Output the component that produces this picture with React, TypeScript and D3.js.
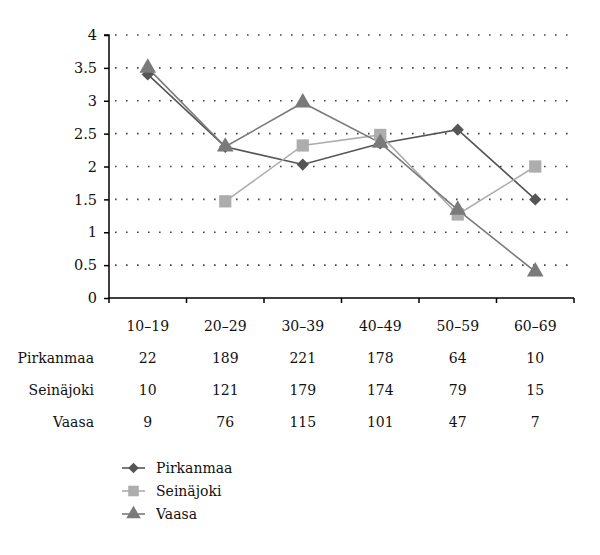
import * as d3 from "d3";
import { useEffect, useRef } from "react";

const ageGroups = ["10–19", "20–29", "30–39", "40–49", "50–59", "60–69"];
const pirkanmaa = [3.4, 2.3, 2.03, 2.35, 2.56, 1.5];
const seinajoki = [null, 1.47, 2.32, 2.48, 1.27, 2.0];
const vaasa = [3.5, 2.3, 2.97, 2.36, 1.34, 0.4];
const yTicks = [0, 0.5, 1, 1.5, 2, 2.5, 3, 3.5, 4];

const countRows = ["Pirkanmaa", "Seinäjoki", "Vaasa"];
const pirkanmaaCounts = [22, 189, 221, 178, 64, 10];
const seinajokiCounts = [10, 121, 179, 174, 79, 15];
const vaasaCounts = [9, 76, 115, 101, 47, 7];

const App = () => {
  const ref = useRef<SVGSVGElement>(null);

  useEffect(() => {
    const svg = d3.select(ref.current);
    svg.selectAll("*").remove();

    const family = "DejaVu Serif";
    const fs = 14;
    const left = 109, right = 574, top = 35, bottom = 298;

    const x = d3.scaleBand().domain(ageGroups).range([left, right]);
    const y = d3.scaleLinear().domain([0, 4]).range([bottom, top]);

    // dotted grid
    svg.append("g")
      .selectAll("line")
      .data(yTicks.filter((t) => t > 0))
      .join("line")
      .attr("x1", left + 6).attr("x2", right)
      .attr("y1", (d) => y(d)).attr("y2", (d) => y(d))
      .attr("stroke", "#444")
      .attr("stroke-width", 1.6)
      .attr("stroke-dasharray", "1.6,9.4");

    // y axis
    const yAxis = svg.append("g")
      .attr("transform", `translate(${left},0)`)
      .call(d3.axisLeft(y).tickValues(yTicks).tickSize(5).tickPadding(7).tickFormat((d) => String(d)));
    yAxis.attr("font-family", family).attr("font-size", fs + 0.5);
    yAxis.select(".domain").attr("stroke", "#000").attr("stroke-width", 1.5).attr("d", `M-5,${top}H0V${bottom}`);
    yAxis.selectAll(".tick line").attr("stroke", "#000").attr("stroke-width", 1.5);
    yAxis.selectAll("text").attr("fill", "#111");

    // x axis
    const boundaries = ageGroups.map((g) => x(g)!).concat([right]);
    svg.append("line")
      .attr("x1", left).attr("x2", right).attr("y1", bottom).attr("y2", bottom)
      .attr("stroke", "#000").attr("stroke-width", 1.5);
    svg.append("g")
      .selectAll("line")
      .data(boundaries)
      .join("line")
      .attr("x1", (d) => d).attr("x2", (d) => d)
      .attr("y1", bottom).attr("y2", bottom + 5)
      .attr("stroke", "#000").attr("stroke-width", 1.5);

    svg.append("g")
      .attr("font-family", family).attr("font-size", fs)
      .selectAll("text")
      .data(ageGroups)
      .join("text")
      .attr("x", (d) => x(d)! + x.bandwidth() / 2)
      .attr("y", 331)
      .attr("text-anchor", "middle")
      .attr("fill", "#111")
      .text((d) => d);

    // data table
    const tableData = [pirkanmaaCounts, seinajokiCounts, vaasaCounts];
    const table = svg.append("g").attr("font-family", family).attr("font-size", fs).attr("fill", "#111");
    tableData.forEach((row, i) => {
      const ty = 363 + i * 32;
      table.append("text")
        .attr("x", 94).attr("y", ty)
        .attr("text-anchor", "end")
        .text(countRows[i]);
      table.append("g")
        .selectAll("text")
        .data(row)
        .join("text")
        .attr("x", (d, j) => x(ageGroups[j])! + x.bandwidth() / 2)
        .attr("y", ty)
        .attr("text-anchor", "middle")
        .text((d) => d);
    });

    const series = [
      { name: "Pirkanmaa", values: pirkanmaa, color: "#555555", symbol: d3.symbolDiamond, size: 75 },
      { name: "Seinäjoki", values: seinajoki, color: "#adadad", symbol: d3.symbolSquare, size: 150 },
      { name: "Vaasa", values: vaasa, color: "#7a7a7a", symbol: d3.symbolTriangle, size: 120 },
    ];

    const line = d3.line<number | null>()
      .defined((d) => d !== null)
      .x((d, i) => x(ageGroups[i])! + x.bandwidth() / 2)
      .y((d) => y(d as number));

    series.forEach((s) => {
      svg.append("path")
        .datum(s.values)
        .attr("fill", "none")
        .attr("stroke", s.color)
        .attr("stroke-width", 1.6)
        .attr("d", line);
    });

    series.forEach((s) => {
      const isDiamond = s.symbol === d3.symbolDiamond;
      const sym = d3.symbol().type(isDiamond ? d3.symbolSquare : s.symbol).size(s.size);
      svg.append("g")
        .selectAll("path")
        .data(s.values.map((v, i) => ({ v, i })).filter((d) => d.v !== null))
        .join("path")
        .attr("transform", (d) => `translate(${x(ageGroups[d.i])! + x.bandwidth() / 2},${y(d.v as number)})` + (isDiamond ? " rotate(45)" : ""))
        .attr("d", sym())
        .attr("fill", s.color);
    });

    // legend
    const legend = svg.append("g").attr("font-family", family).attr("font-size", fs).attr("fill", "#111");
    series.forEach((s, i) => {
      const ly = 468 + i * 23;
      const isDiamond = s.symbol === d3.symbolDiamond;
      legend.append("line")
        .attr("x1", 122).attr("x2", 145).attr("y1", ly).attr("y2", ly)
        .attr("stroke", s.color).attr("stroke-width", 1.6);
      const sym = d3.symbol().type(isDiamond ? d3.symbolSquare : s.symbol).size(s.size * 0.75);
      legend.append("path")
        .attr("transform", `translate(133.5,${ly})` + (isDiamond ? " rotate(45)" : ""))
        .attr("d", sym())
        .attr("fill", s.color);
      legend.append("text")
        .attr("x", 156).attr("y", ly + 5)
        .text(s.name);
    });
  }, []);

  return (
    <svg ref={ref} width={600} height={555} style={{ position: "absolute", left: 0, top: 0, background: "#fff" }} />
  );
};

export default App;
